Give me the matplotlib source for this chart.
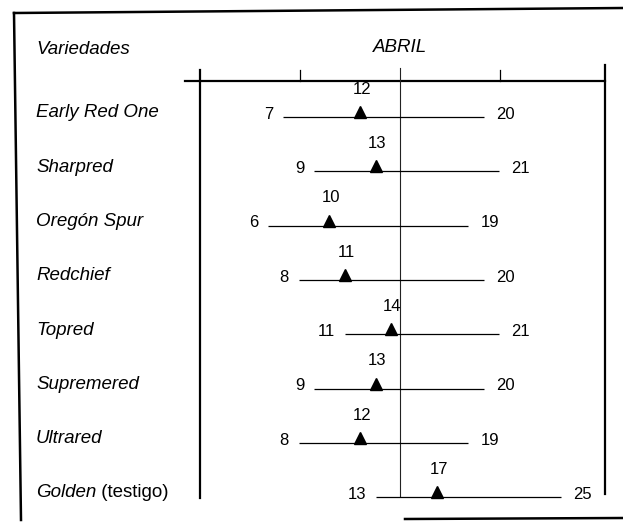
import numpy as np
import matplotlib
matplotlib.use("Agg")
import matplotlib.pyplot as plt
from matplotlib import transforms

# data: dates of bloom in April (start, full bloom, end)
variedades = ["Early Red One", "Sharpred", "Oregón Spur", "Redchief",
              "Topred", "Supremered", "Ultrared", "Golden"]
inicio = [7, 9, 6, 8, 11, 9, 8, 13]
plena = [12, 13, 10, 11, 14, 13, 12, 17]
final = [20, 21, 19, 20, 21, 20, 19, 25]
marcas_eje = [1.6, 8.1, 14.6, 21.1, 27.9]  # day positions of the axis ticks

W, H = 623, 523
X0, PX_DIA = 175.3, 15.41      # pixel of day 0, pixels per day
Y0, PX_FILA = 117, 54.3        # pixel of first row, pixels per row

lab_font = ['Liberation Sans', 'DejaVu Sans']
num_font = ['Liberation Sans Narrow', 'Liberation Sans', 'DejaVu Sans']

fig = plt.figure(figsize=(W / 100, H / 100), dpi=100)
ax = fig.add_axes([0, 0, 1, 1])
ax.set_xlim(-X0 / PX_DIA, (W - X0) / PX_DIA)
ax.set_ylim((H - Y0) / PX_FILA, -Y0 / PX_FILA)
ax.axis('off')

filas = np.arange(len(variedades))

# axis frame
y_eje = -0.66
ax.plot([0.65, marcas_eje[-1]], [y_eje, y_eje], color='k', lw=1.6)
ax.plot([marcas_eje[0]] * 2, [-0.87, 7.02], color='k', lw=1.6)
ax.plot([marcas_eje[-1]] * 2, [-0.96, 6.95], color='k', lw=1.6)
ax.plot([marcas_eje[2]] * 2, [-0.9, 6.98], color='#222222', lw=0.8)
for m in (marcas_eje[1], marcas_eje[3]):
    ax.plot([m, m], [-0.87, y_eje], color='k', lw=0.9)

# rows
ax.hlines(filas, inicio, final, color='k', lw=0.9)
tri = transforms.offset_copy(ax.transData, fig=fig, x=0, y=5, units='dots')
ax.plot(plena, filas, '^', color='k', ms=8, transform=tri)

for i in filas:
    ax.annotate(str(inicio[i]), (inicio[i], i), xytext=(-7, 2), textcoords='offset points',
                ha='right', va='center', fontsize=12, family=num_font)
    ax.annotate(str(final[i]), (final[i], i), xytext=(9, 2), textcoords='offset points',
                ha='left', va='center', fontsize=12, family=num_font)
    ax.annotate(str(plena[i]), (plena[i], i), xytext=(1, 20), textcoords='offset points',
                ha='center', va='center', fontsize=12, family=num_font)
    t = ax.annotate(variedades[i], (36 / W, i), xytext=(0, 3), textcoords='offset points',
                    xycoords=('axes fraction', 'data'), ha='left', va='center',
                    fontsize=13.5, style='italic', family=lab_font)
    if variedades[i] == "Golden":
        ax.annotate(" (testigo)", (1, 0), xycoords=t, ha='left', va='bottom',
                    fontsize=13.5, family=lab_font)

# header
fig.text(36 / W, 1 - 50 / H, "Variedades", ha='left', va='center',
         fontsize=13.5, style='italic', family=lab_font)
fig.text(400 / W, 1 - 47 / H, "ABRIL", ha='center', va='center',
         fontsize=13.5, style='italic', family=lab_font)

# scanned border
fig.add_artist(plt.Line2D([14 / W, 1], [1 - 13 / H, 1 - 8 / H], color='k', lw=1.8))
fig.add_artist(plt.Line2D([14 / W, 21 / W], [1 - 13 / H, 1 - 520 / H], color='k', lw=1.8))
fig.add_artist(plt.Line2D([405 / W, 1], [1 - 519 / H, 1 - 518 / H], color='k', lw=1.8))

fig.savefig("out.png", dpi=100)
